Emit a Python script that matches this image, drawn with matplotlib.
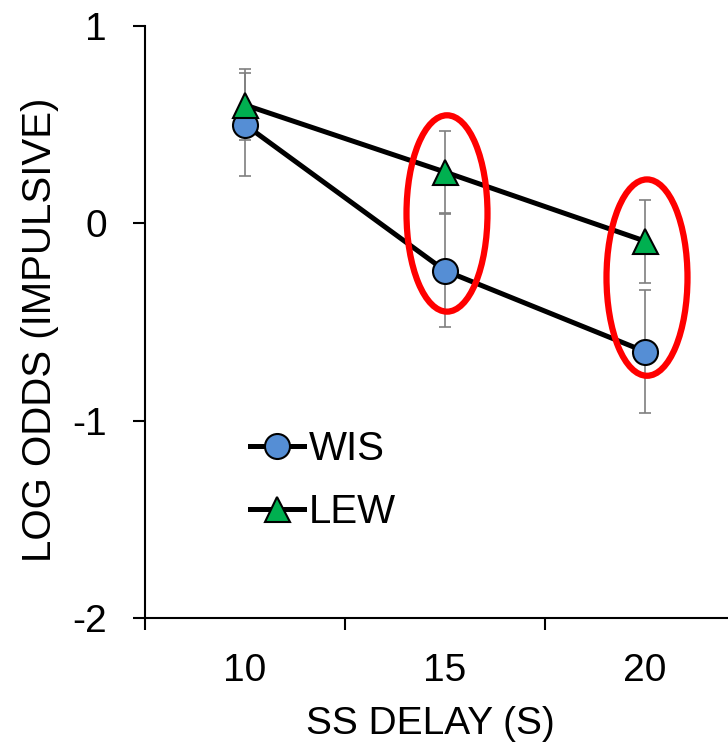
import matplotlib
matplotlib.use("Agg")
import matplotlib.pyplot as plt
from matplotlib.patches import Ellipse
from matplotlib.ticker import FixedLocator, NullFormatter, FixedFormatter

plt.rcParams['font.family'] = ['Liberation Sans', 'DejaVu Sans']

# ---- data ----
delays = ["10", "15", "20"]
wis_mean = [0.50, -0.24, -0.65]
wis_err = [0.26, 0.285, 0.31]
lew_mean = [0.60, 0.26, -0.09]
lew_err = [0.18, 0.21, 0.21]
series_names = ["WIS", "LEW"]
y_ticks = [-2, -1, 0, 1]
# highlighted delays (index into delays) and the centre of each highlight
highlight = [1, 2]
highlight_center_y = [0.05, -0.275]

fig = plt.figure(figsize=(7.28, 7.44), dpi=100)
ax = fig.add_axes([145/728, 126/744, 600/728, 592/744])

x = [i + 1 for i in range(len(delays))]

ax.errorbar(x, wis_mean, yerr=wis_err, fmt='none', ecolor='#7f7f7f',
            elinewidth=1.2, capsize=4.5, capthick=1.2, zorder=1)
ax.errorbar(x, lew_mean, yerr=lew_err, fmt='none', ecolor='#7f7f7f',
            elinewidth=1.2, capsize=4.5, capthick=1.2, zorder=1)

ax.plot(x, wis_mean, color='black', lw=3.6, marker='o', markersize=18,
        markerfacecolor='#558ED5', markeredgecolor='black', markeredgewidth=1.5,
        label=series_names[0], zorder=3)
ax.plot(x, lew_mean, color='black', lw=3.6, marker='^', markersize=18,
        markerfacecolor='#00B050', markeredgecolor='black', markeredgewidth=1.5,
        label=series_names[1], zorder=4)

for i, cy in zip(highlight, highlight_center_y):
    e = Ellipse((x[i] + 0.01, cy), width=0.405, height=0.995, fill=False,
                edgecolor='#FF0000', lw=4.5, zorder=6)
    ax.add_patch(e)

ax.set_xlim(0.5, 3.5)
ax.set_ylim(-2, 1)

ax.spines['top'].set_visible(False)
ax.spines['right'].set_visible(False)
for s in ['left', 'bottom']:
    ax.spines[s].set_linewidth(1.5)

ax.yaxis.set_major_locator(FixedLocator(y_ticks))
ax.set_yticklabels([str(v) for v in y_ticks])
ax.tick_params(axis='y', direction='out', length=8.6, width=1.5, pad=19,
               labelsize=28)

ax.xaxis.set_major_locator(FixedLocator([0.5, 1.5, 2.5, 3.5]))
ax.xaxis.set_major_formatter(NullFormatter())
ax.xaxis.set_minor_locator(FixedLocator(x))
ax.xaxis.set_minor_formatter(FixedFormatter(delays))
ax.tick_params(axis='x', which='major', direction='out', length=8.6, width=1.5)
ax.tick_params(axis='x', which='minor', length=0, pad=25, labelsize=28)

fig.text(430/728, 1 - 724/744, "SS DELAY (S)", ha='center', va='center', fontsize=28)
fig.text(40/728, 1 - 330/744, "LOG ODDS (IMPULSIVE)", ha='center', va='center',
         rotation=90, fontsize=29)

leg = ax.legend(loc='upper left', bbox_to_anchor=((250-145)/600, (618-430)/592),
                frameon=False, fontsize=29, handlelength=1.35, handletextpad=0.12,
                borderpad=0, borderaxespad=0, labelspacing=0.62)
for h in leg.legend_handles:
    h.set_markersize(18)

fig.savefig("out.png", dpi=100)
